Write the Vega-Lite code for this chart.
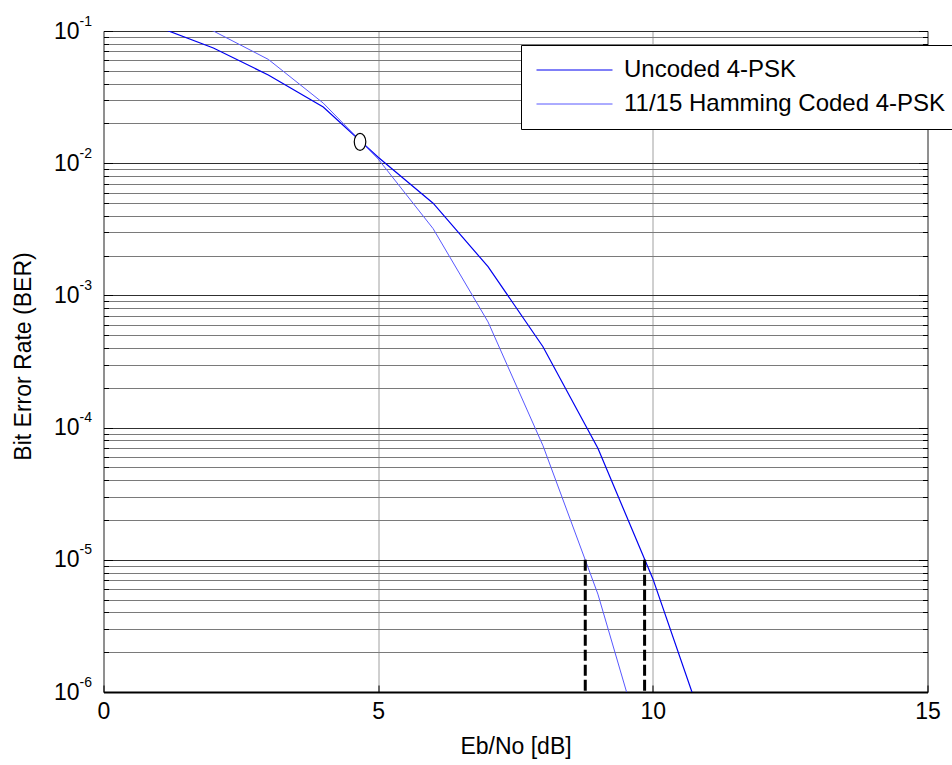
{
  "$schema": "https://vega.github.io/schema/vega-lite/v6.json",
  "width": 824,
  "height": 661,
  "autosize": {"type": "none"},
  "padding": {"left": 103.5, "top": 31, "right": 24.5, "bottom": 73},
  "background": "white",
  "config": {
    "view": {"stroke": "black", "strokeWidth": 1},
    "font": "Liberation Sans",
    "axis": {"labelFont": "Liberation Sans", "titleFont": "Liberation Sans", "labelColor": "black", "titleColor": "black", "titleFontWeight": "normal", "labelOverlap": false, "labelFlush": false},
    "legend": {"labelFont": "Liberation Sans", "labelColor": "black"}
  },
  "datasets": {
    "curves": [
      {"series": "Uncoded 4-PSK", "ebno": 0, "ber": 0.15},
      {"series": "Uncoded 4-PSK", "ebno": 1, "ber": 0.107},
      {"series": "Uncoded 4-PSK", "ebno": 2, "ber": 0.0743},
      {"series": "Uncoded 4-PSK", "ebno": 3, "ber": 0.0465},
      {"series": "Uncoded 4-PSK", "ebno": 4, "ber": 0.0266},
      {"series": "Uncoded 4-PSK", "ebno": 5, "ber": 0.0111},
      {"series": "Uncoded 4-PSK", "ebno": 6, "ber": 0.00498},
      {"series": "Uncoded 4-PSK", "ebno": 7, "ber": 0.00165},
      {"series": "Uncoded 4-PSK", "ebno": 8, "ber": 0.000409},
      {"series": "Uncoded 4-PSK", "ebno": 9, "ber": 0.0000697},
      {"series": "Uncoded 4-PSK", "ebno": 10, "ber": 0.0000072},
      {"series": "Uncoded 4-PSK", "ebno": 11, "ber": 0.00000045},
      {"series": "11/15 Hamming Coded 4-PSK", "ebno": 0, "ber": 0.19},
      {"series": "11/15 Hamming Coded 4-PSK", "ebno": 1, "ber": 0.142},
      {"series": "11/15 Hamming Coded 4-PSK", "ebno": 2, "ber": 0.1},
      {"series": "11/15 Hamming Coded 4-PSK", "ebno": 3, "ber": 0.061},
      {"series": "11/15 Hamming Coded 4-PSK", "ebno": 4, "ber": 0.0285},
      {"series": "11/15 Hamming Coded 4-PSK", "ebno": 5, "ber": 0.01076},
      {"series": "11/15 Hamming Coded 4-PSK", "ebno": 6, "ber": 0.0032},
      {"series": "11/15 Hamming Coded 4-PSK", "ebno": 7, "ber": 0.00063},
      {"series": "11/15 Hamming Coded 4-PSK", "ebno": 8, "ber": 0.000073},
      {"series": "11/15 Hamming Coded 4-PSK", "ebno": 9, "ber": 0.0000055},
      {"series": "11/15 Hamming Coded 4-PSK", "ebno": 10, "ber": 0.00000021}
    ],
    "markers": [
      {"ebno": 8.77, "lo": 0.000001, "hi": 0.00001},
      {"ebno": 9.85, "lo": 0.000001, "hi": 0.00001}
    ],
    "crossing": [
      {"ebno": 4.67, "ber": 0.0145}
    ]
  },
  "resolve": {"axis": {"y": "independent"}},
  "layer": [
    {
      "data": {"name": "curves"},
      "transform": [{"filter": "datum.series === 'Uncoded 4-PSK'"}],
      "mark": {"type": "line", "clip": true, "strokeWidth": 1.2},
      "encoding": {
        "x": {
          "field": "ebno", "type": "quantitative",
          "scale": {"domain": [0, 15], "nice": false, "zero": false},
          "axis": {
            "values": [0, 5, 10, 15], "grid": true, "gridColor": "#a0a0a0", "gridWidth": 1,
            "tickSize": -7, "tickColor": "black", "domain": true, "domainColor": "black", "domainWidth": 2,
            "labelFontSize": 23, "labelPadding": 15, "labelBaseline": "top",
            "title": "Eb/No [dB]", "titleFontSize": 23, "titleY": 54, "titleBaseline": "middle"
          }
        },
        "y": {
          "field": "ber", "type": "quantitative",
          "scale": {"type": "log", "domain": [0.000001, 0.1], "nice": false},
          "axis": {
            "orient": "left",
            "values": [0.000001, 0.000002, 0.000003, 0.000004, 0.000005, 0.000006, 0.000007, 0.000008, 0.000009,
                       0.00001, 0.00002, 0.00003, 0.00004, 0.00005, 0.00006, 0.00007, 0.00008, 0.00009,
                       0.0001, 0.0002, 0.0003, 0.0004, 0.0005, 0.0006, 0.0007, 0.0008, 0.0009,
                       0.001, 0.002, 0.003, 0.004, 0.005, 0.006, 0.007, 0.008, 0.009,
                       0.01, 0.02, 0.03, 0.04, 0.05, 0.06, 0.07, 0.08, 0.09, 0.1],
            "grid": true,
            "gridColor": {"condition": {"test": "abs(log(datum.value)/LN10 - round(log(datum.value)/LN10)) < 0.01", "value": "#303030"}, "value": "#7a7a7a"},
            "gridWidth": 1,
            "labels": false,
            "ticks": true,
            "tickColor": "black",
            "tickSize": {"condition": {"test": "abs(log(datum.value)/LN10 - round(log(datum.value)/LN10)) < 0.01", "value": -9}, "value": -5},
            "domain": false,
            "title": null
          }
        },
        "color": {
          "field": "series", "type": "nominal",
          "scale": {"domain": ["Uncoded 4-PSK", "11/15 Hamming Coded 4-PSK"], "range": ["#0000f0", "#5858ff"]},
          "legend": {
            "orient": "none", "legendX": 417.5, "legendY": 14,
            "title": null, "labelFontSize": 24, "labelOffset": 66, "labelLimit": 600,
            "symbolType": "M-1,0H7", "symbolSize": 361, "symbolStrokeWidth": 1, "symbolFillColor": "transparent",
            "strokeColor": "black", "fillColor": "white", "padding": 13, "rowPadding": 10
          }
        }
      }
    },
    {
      "data": {"name": "curves"},
      "transform": [{"filter": "datum.series !== 'Uncoded 4-PSK'"}],
      "mark": {"type": "line", "clip": true, "strokeWidth": 1},
      "encoding": {
        "x": {"field": "ebno", "type": "quantitative"},
        "y": {
          "field": "ber", "type": "quantitative",
          "axis": {
            "orient": "right",
            "values": [0.000001, 0.000002, 0.000003, 0.000004, 0.000005, 0.000006, 0.000007, 0.000008, 0.000009,
                       0.00001, 0.00002, 0.00003, 0.00004, 0.00005, 0.00006, 0.00007, 0.00008, 0.00009,
                       0.0001, 0.0002, 0.0003, 0.0004, 0.0005, 0.0006, 0.0007, 0.0008, 0.0009,
                       0.001, 0.002, 0.003, 0.004, 0.005, 0.006, 0.007, 0.008, 0.009,
                       0.01, 0.02, 0.03, 0.04, 0.05, 0.06, 0.07, 0.08, 0.09, 0.1],
            "grid": false,
            "labels": false,
            "ticks": true,
            "tickColor": "black",
            "tickSize": {"condition": {"test": "abs(log(datum.value)/LN10 - round(log(datum.value)/LN10)) < 0.01", "value": -9}, "value": -5},
            "domain": false,
            "title": null
          }
        },
        "color": {"field": "series", "type": "nominal"}
      }
    },
    {
      "data": {"name": "markers"},
      "mark": {"type": "rule", "color": "black", "strokeWidth": 3, "strokeDash": [11, 4]},
      "encoding": {
        "x": {"field": "ebno", "type": "quantitative"},
        "y": {
          "field": "hi", "type": "quantitative",
          "axis": {
            "orient": "left",
            "values": [0.000001, 0.00001, 0.0001, 0.001, 0.01, 0.1],
            "labelExpr": "'10'",
            "labelFontSize": 23, "labelPadding": 24.5, "labelBaseline": "middle", "labelAlign": "right",
            "ticks": false, "tickSize": 0, "grid": false, "domain": false,
            "title": "Bit Error Rate (BER)", "titleFontSize": 23, "titleX": -80, "titleY": 325,
            "titleBaseline": "middle", "titleAlign": "center", "titleAngle": -90
          }
        },
        "y2": {"field": "lo"}
      }
    },
    {
      "data": {"name": "crossing"},
      "mark": {
        "type": "point", "filled": true, "fill": "white", "stroke": "black", "strokeWidth": 1.2, "opacity": 1,
        "size": 289,
        "shape": "M0,-1C0.376,-1 0.68,-0.552 0.68,0C0.68,0.552 0.376,1 0,1C-0.376,1 -0.68,0.552 -0.68,0C-0.68,-0.552 -0.376,-1 0,-1Z"
      },
      "encoding": {
        "x": {"field": "ebno", "type": "quantitative"},
        "y": {
          "field": "ber", "type": "quantitative",
          "axis": {
            "orient": "left",
            "values": [0.000001, 0.00001, 0.0001, 0.001, 0.01, 0.1],
            "labelExpr": "'' + round(log(datum.value)/LN10)",
            "labelFontSize": 14, "labelPadding": 24.5, "labelBaseline": "bottom", "labelAlign": "left", "labelOffset": -3,
            "ticks": false, "tickSize": 0, "grid": false, "domain": false, "title": null
          }
        }
      }
    }
  ]
}
